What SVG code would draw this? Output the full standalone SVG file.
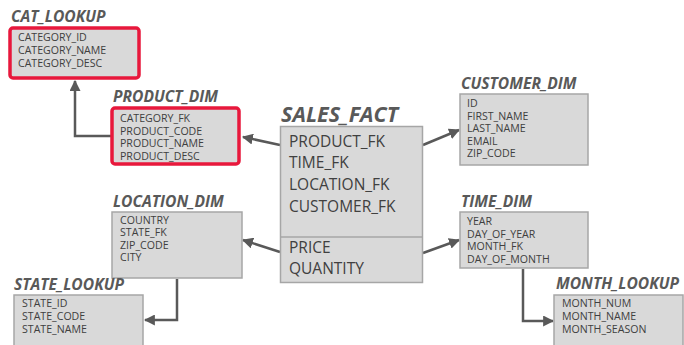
<svg xmlns="http://www.w3.org/2000/svg" width="684" height="345" viewBox="0 0 684 345">
<style>
.box{fill:#d9d9d9;stroke:#a6a6a6;stroke-width:1.5}
.hl{fill:#d9d9d9;stroke:#e8183c;stroke-width:3.5}
.title{font-family:"Open Sans",sans-serif;font-weight:bold;font-style:italic;font-size:15.6px;fill:#595959}
.big{font-family:"Open Sans",sans-serif;font-weight:bold;font-style:italic;font-size:21.5px;fill:#595959}
.it{font-family:"Open Sans",sans-serif;font-size:10.6px;fill:#404040}
.bit{font-family:"Open Sans",sans-serif;font-size:15.5px;fill:#404040}
.con{fill:none;stroke:#595959;stroke-width:2.5}
</style>
<defs>
<marker id="ah" viewBox="0 0 10 10" refX="9" refY="5" markerWidth="4.4" markerHeight="4.4" orient="auto" markerUnits="strokeWidth">
<path d="M0,0 L10,5 L0,10 z" fill="#595959"/>
</marker>
</defs>
<rect width="684" height="345" fill="#ffffff"/>
<g id="connectors">
<path class="con" d="M111,136 H75 V81" marker-end="url(#ah)"/>
<path class="con" d="M280,145 L243,137" marker-end="url(#ah)"/>
<path class="con" d="M280,252 L243,240" marker-end="url(#ah)"/>
<path class="con" d="M423,145 L459,130" marker-end="url(#ah)"/>
<path class="con" d="M423,253 L459,240" marker-end="url(#ah)"/>
<path class="con" d="M177,279 V320 H145" marker-end="url(#ah)"/>
<path class="con" d="M523,269 V321 H553" marker-end="url(#ah)"/>
</g>
<g id="cat_lookup">
<text class="title" x="11" y="22">CAT_LOOKUP</text>
<rect class="hl" x="10" y="28" width="129" height="50" rx="3"/>
<text class="it" x="18" y="41">CATEGORY_ID</text>
<text class="it" x="18" y="54">CATEGORY_NAME</text>
<text class="it" x="18" y="67">CATEGORY_DESC</text>
</g>
<g id="product_dim">
<text class="title" x="113" y="102">PRODUCT_DIM</text>
<rect class="hl" x="112" y="108" width="127" height="56" rx="3"/>
<text class="it" x="120" y="122">CATEGORY_FK</text>
<text class="it" x="120" y="134.5">PRODUCT_CODE</text>
<text class="it" x="120" y="147">PRODUCT_NAME</text>
<text class="it" x="120" y="159.5">PRODUCT_DESC</text>
</g>
<g id="sales_fact">
<text class="big" x="281" y="122">SALES_FACT</text>
<rect class="box" x="280.5" y="126.5" width="142" height="156"/>
<line x1="280.5" y1="237" x2="422.5" y2="237" stroke="#a6a6a6" stroke-width="1.5"/>
<text class="bit" x="289" y="147">PRODUCT_FK</text>
<text class="bit" x="289" y="168">TIME_FK</text>
<text class="bit" x="289" y="190">LOCATION_FK</text>
<text class="bit" x="289" y="212">CUSTOMER_FK</text>
<text class="bit" x="289" y="253">PRICE</text>
<text class="bit" x="289" y="274">QUANTITY</text>
</g>
<g id="customer_dim">
<text class="title" x="461" y="89">CUSTOMER_DIM</text>
<rect class="box" x="460" y="94" width="128" height="71"/>
<text class="it" x="467" y="107">ID</text>
<text class="it" x="467" y="119.5">FIRST_NAME</text>
<text class="it" x="467" y="132">LAST_NAME</text>
<text class="it" x="467" y="144.5">EMAIL</text>
<text class="it" x="467" y="157">ZIP_CODE</text>
</g>
<g id="time_dim">
<text class="title" x="461" y="207">TIME_DIM</text>
<rect class="box" x="460" y="212" width="128" height="56"/>
<text class="it" x="467" y="225">YEAR</text>
<text class="it" x="467" y="237.5">DAY_OF_YEAR</text>
<text class="it" x="467" y="250">MONTH_FK</text>
<text class="it" x="467" y="262.5">DAY_OF_MONTH</text>
</g>
<g id="location_dim">
<text class="title" x="113" y="207">LOCATION_DIM</text>
<rect class="box" x="112" y="212" width="130" height="66"/>
<text class="it" x="120" y="223.5">COUNTRY</text>
<text class="it" x="120" y="236">STATE_FK</text>
<text class="it" x="120" y="248.5">ZIP_CODE</text>
<text class="it" x="120" y="261">CITY</text>
</g>
<g id="state_lookup">
<text class="title" x="14" y="290">STATE_LOOKUP</text>
<rect class="box" x="14" y="295" width="129" height="52"/>
<text class="it" x="22" y="307">STATE_ID</text>
<text class="it" x="22" y="320">STATE_CODE</text>
<text class="it" x="22" y="333">STATE_NAME</text>
</g>
<g id="month_lookup">
<text class="title" x="556" y="289">MONTH_LOOKUP</text>
<rect class="box" x="554" y="295" width="129" height="52"/>
<text class="it" x="562" y="307">MONTH_NUM</text>
<text class="it" x="562" y="320">MONTH_NAME</text>
<text class="it" x="562" y="333">MONTH_SEASON</text>
</g>
</svg>
